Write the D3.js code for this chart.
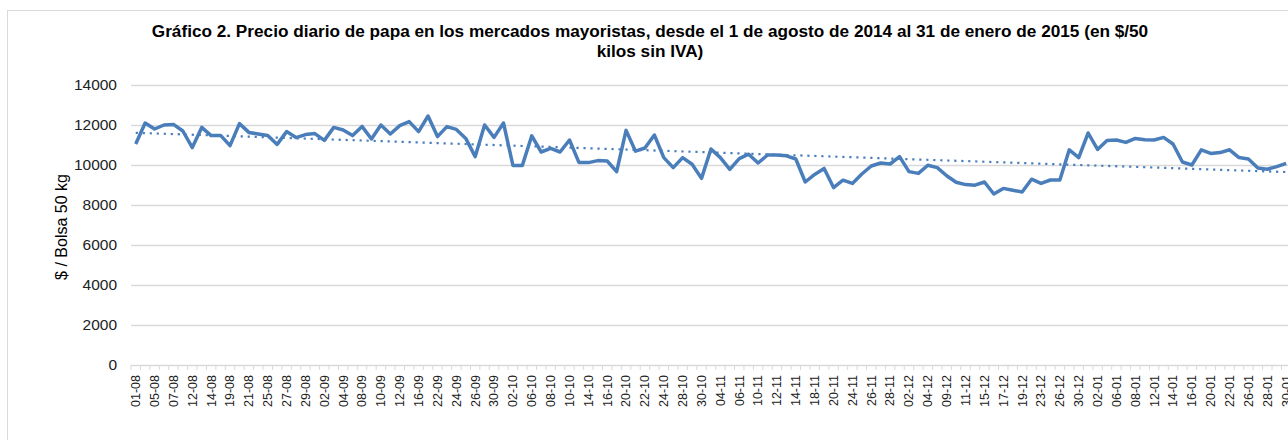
<!DOCTYPE html>
<html>
<head>
<meta charset="utf-8">
<script src="https://cdn.jsdelivr.net/npm/d3@7/dist/d3.min.js"></script>
<style>
  html, body { margin: 0; padding: 0; background: #fff; }
  svg { display: block; font-family: "Liberation Sans", Arial, sans-serif; }
</style>
</head>
<body>
<svg id="chart" width="1288" height="440"></svg>
<script>
const categories = [
  "01-08","04-08","05-08","06-08","07-08","08-08","12-08","13-08","14-08","18-08",
  "19-08","20-08","21-08","22-08","25-08","26-08","27-08","28-08","29-08","01-09",
  "02-09","03-09","04-09","05-09","08-09","09-09","10-09","11-09","12-09","15-09",
  "16-09","17-09","22-09","23-09","24-09","25-09","26-09","29-09","30-09","01-10",
  "02-10","03-10","06-10","07-10","08-10","09-10","10-10","13-10","14-10","15-10",
  "16-10","17-10","20-10","21-10","22-10","23-10","24-10","27-10","28-10","29-10",
  "30-10","03-11","04-11","05-11","06-11","07-11","10-11","11-11","12-11","13-11",
  "14-11","17-11","18-11","19-11","20-11","21-11","24-11","25-11","26-11","27-11",
  "28-11","01-12","02-12","03-12","04-12","05-12","09-12","10-12","11-12","12-12",
  "15-12","16-12","17-12","18-12","19-12","22-12","23-12","24-12","26-12","29-12",
  "30-12","31-12","02-01","05-01","06-01","07-01","08-01","09-01","12-01","13-01",
  "14-01","15-01","16-01","19-01","20-01","21-01","22-01","23-01","26-01","27-01",
  "28-01","29-01","30-01"
];

const prices = [
  11050,12100,11800,12000,12030,11700,10870,11880,11470,11480,
  10970,12070,11630,11550,11480,11030,11670,11370,11520,11570,
  11230,11880,11750,11470,11930,11300,12000,11550,11970,12170,
  11670,12450,11420,11920,11780,11330,10420,12000,11380,12100,
  9980,9980,11460,10650,10830,10650,11250,10130,10120,10220,
  10200,9670,11730,10690,10850,11500,10370,9870,10370,10040,
  9330,10800,10370,9780,10320,10540,10100,10500,10500,10460,
  10300,9150,9530,9830,8870,9240,9080,9550,9950,10100,
  10050,10420,9670,9580,9990,9870,9460,9140,9020,8990,
  9150,8550,8830,8740,8650,9290,9080,9250,9250,10760,
  10370,11600,10780,11230,11250,11130,11330,11260,11250,11380,
  11050,10150,10000,10760,10580,10620,10760,10370,10300,9850,
  9790,9920,10080
];

const yTicks = [0, 2000, 4000, 6000, 8000, 10000, 12000, 14000];

const titleLines = [
  "Gráfico 2. Precio diario de papa en los mercados mayoristas, desde el 1 de agosto de 2014 al 31 de enero de 2015 (en $/50",
  "kilos sin IVA)"
];
const yTitle = "$ / Bolsa 50 kg";

const svg = d3.select("#chart");
const W = 1288, H = 440;
const plot = { left: 131, right: 131 + 123 * 9.43, top: 85, bottom: 365 };
const lineColor = "#4a7ebb";
const textColor = "#222222";
const gridColor = "#d9d9d9";

svg.append("rect").attr("width", W).attr("height", H).attr("fill", "#fff");

// chart area border
svg.append("rect")
  .attr("x", 7.5).attr("y", 10.5)
  .attr("width", W + 20).attr("height", H + 20)
  .attr("fill", "none").attr("stroke", gridColor).attr("stroke-width", 1);

const x = d3.scaleBand().domain(categories).range([plot.left, plot.right]).padding(0);
const y = d3.scaleLinear().domain([0, 14000]).range([plot.bottom, plot.top]);
const cx = d => x(d) + x.bandwidth() / 2;

// gridlines
svg.append("g").selectAll("line")
  .data(yTicks.filter(t => t > 0))
  .join("line")
  .attr("x1", plot.left).attr("x2", plot.right)
  .attr("y1", d => Math.round(y(d)) + 0.5).attr("y2", d => Math.round(y(d)) + 0.5)
  .attr("stroke", gridColor).attr("stroke-width", 1.3);

// y axis labels
const yAxis = d3.axisLeft(y).tickValues(yTicks).tickSize(0).tickPadding(14).tickFormat(d3.format("d"));
const gy = svg.append("g").attr("transform", `translate(${plot.left},0)`).call(yAxis);
gy.select(".domain").remove();
gy.selectAll("text").attr("fill", textColor).attr("font-size", 15.5).style("font-family", "Liberation Sans, Arial, sans-serif");

// x axis
const xAxis = d3.axisBottom(x)
  .tickSize(0)
  .tickFormat((d, i) => (i % 2 === 0 ? d : ""));
const gx = svg.append("g").attr("transform", `translate(0,${plot.bottom})`).call(xAxis);
gx.select(".domain").attr("stroke", gridColor).attr("stroke-width", 1.3)
  .attr("d", `M${plot.left},0.5H${plot.right}`);
gx.selectAll("text")
  .attr("fill", textColor)
  .attr("font-size", 12.5)
  .style("font-family", "Liberation Sans, Arial, sans-serif")
  .attr("text-anchor", "end")
  .attr("transform", "rotate(-90)")
  .attr("x", -10)
  .attr("y", 0)
  .attr("dy", "0.35em");
// category boundary ticks
svg.append("g").selectAll("line")
  .data(categories.concat(["__end"]))
  .join("line")
  .attr("x1", (d, i) => (i < categories.length ? x(d) : plot.right))
  .attr("x2", (d, i) => (i < categories.length ? x(d) : plot.right))
  .attr("y1", plot.bottom).attr("y2", plot.bottom + 5)
  .attr("stroke", gridColor).attr("stroke-width", 1);

// trend line (least squares)
const n = prices.length;
const xs = d3.range(n);
const mx = d3.mean(xs), my = d3.mean(prices);
const slope = d3.sum(xs, i => (i - mx) * (prices[i] - my)) / d3.sum(xs, i => (i - mx) * (i - mx));
const intercept = my - slope * mx;
svg.append("line")
  .attr("x1", cx(categories[0])).attr("y1", y(intercept))
  .attr("x2", cx(categories[n - 1])).attr("y2", y(intercept + slope * (n - 1)))
  .attr("stroke", lineColor).attr("stroke-width", 2.2)
  .attr("stroke-dasharray", "2.2,4.8");

// price line
const line = d3.line().x((d, i) => cx(categories[i])).y(d => y(d));
svg.append("path")
  .datum(prices)
  .attr("d", line)
  .attr("fill", "none")
  .attr("stroke", lineColor)
  .attr("stroke-width", 3.5)
  .attr("stroke-linejoin", "round");

// title
svg.append("g").selectAll("text")
  .data(titleLines)
  .join("text")
  .attr("x", 650).attr("y", (d, i) => 37 + i * 20)
  .attr("text-anchor", "middle")
  .attr("font-weight", "bold")
  .attr("font-size", 17.2)
  .attr("fill", "#000")
  .text(d => d);

// y title
svg.append("text")
  .attr("transform", "translate(67,227) rotate(-90)")
  .attr("text-anchor", "middle")
  .attr("font-size", 16)
  .attr("fill", "#000")
  .text(yTitle);
</script>
</body>
</html>
